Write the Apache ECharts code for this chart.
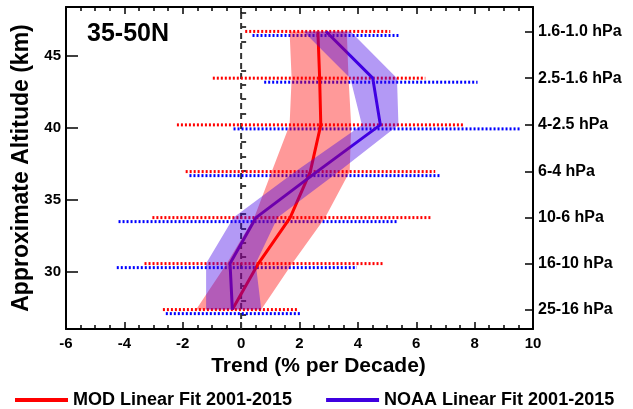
<!DOCTYPE html>
<html><head><meta charset="utf-8">
<script src="https://cdn.jsdelivr.net/npm/echarts@6/dist/echarts.min.js"></script>
<style>html,body{margin:0;padding:0;background:#fff}#c{width:633px;height:409px}</style>
</head><body><div id="c"></div>
<script>
// Pressure layers (approximate altitude, km) and their labels
const layerAlt = [46.7, 43.45, 40.2, 36.95, 33.75, 30.55, 27.35];
const layerLabels = ['1.6-1.0 hPa', '2.5-1.6 hPa', '4-2.5 hPa', '6-4 hPa', '10-6 hPa', '16-10 hPa', '25-16 hPa'];
// Linear-fit trends (% per decade)
const modTrend  = [2.63, 2.69, 2.73, 2.37, 1.68, 0.59, -0.30];
const noaaTrend = [2.91, 4.51, 4.77, 2.60, 0.51, -0.38, -0.30];
// Shaded uncertainty bands
const modBandLo  = [1.66, 1.73, 1.66, 1.05, 0.45, -0.49, -1.54];
const modBandHi  = [3.62, 3.68, 3.77, 3.72, 2.88, 1.75, 0.69];
const noaaBandLo = [2.14, 3.74, 4.14, 1.86, -0.26, -1.20, -1.20];
const noaaBandHi = [3.75, 5.34, 5.39, 3.35, 1.25, 0.50, 0.69];
// Dotted ranges
const modRangeLo  = [0.14, -0.97, -2.20, -1.90, -3.04, -3.31, -2.68];
const modRangeHi  = [5.11, 6.31, 7.64, 6.65, 6.54, 4.91, 1.93];
const noaaRangeLo = [0.39, 0.79, -0.26, -1.77, -4.20, -4.26, -2.58];
const noaaRangeHi = [5.39, 8.10, 9.59, 6.82, 5.36, 3.97, 2.05];
// Axis ticks
const altMajor = [30, 35, 40, 45];
const altMinor = [27, 28, 29, 31, 32, 33, 34, 36, 37, 38, 39, 41, 42, 43, 44, 46, 47, 48];
const title = '35-50N';
const modName = 'MOD Linear Fit 2001-2015';
const noaaName = 'NOAA Linear Fit 2001-2015';

const X_MIN = -6, X_MAX = 10, Y_MIN = 26, Y_MAX = 48.4;
const FONT = 'Liberation Sans';
const RED = '#ff0000', BLUE = '#3f00e0', DOT_BLUE = '#0000ff';
const RED_OFF = 0.0, BLUE_OFF = -0.28;

const chart = echarts.init(document.getElementById('c'), null, {renderer: 'canvas'});

function bandSeries(lo, hi, color, z) {
  return {
    type: 'custom', silent: true, z: z, xAxisIndex: 0, yAxisIndex: 0,
    data: [[lo[0], layerAlt[0]]],
    renderItem: function (params, api) {
      const pts = [];
      for (let i = 0; i < layerAlt.length; i++) pts.push(api.coord([lo[i], layerAlt[i]]));
      for (let i = layerAlt.length - 1; i >= 0; i--) pts.push(api.coord([hi[i], layerAlt[i]]));
      return {type: 'polygon', shape: {points: pts}, style: {fill: color}};
    }
  };
}

const series = [];
// zero line
series.push({type: 'line', silent: true, z: 1, data: [[0, Y_MIN], [0, Y_MAX]], showSymbol: false,
  lineStyle: {color: '#333', width: 2, type: [6, 4]}});
// dotted ranges
for (let i = 0; i < layerAlt.length; i++) {
  series.push({type: 'line', silent: true, z: 2, showSymbol: false,
    data: [[modRangeLo[i], layerAlt[i] + RED_OFF], [modRangeHi[i], layerAlt[i] + RED_OFF]],
    lineStyle: {color: RED, width: 3, type: [2, 2]}});
  series.push({type: 'line', silent: true, z: 2, showSymbol: false,
    data: [[noaaRangeLo[i], layerAlt[i] + BLUE_OFF], [noaaRangeHi[i], layerAlt[i] + BLUE_OFF]],
    lineStyle: {color: DOT_BLUE, width: 3, type: [2, 2]}});
}
// fit lines
series.push({name: modName, type: 'line', z: 3, showSymbol: false, color: RED,
  data: layerAlt.map((a, i) => [modTrend[i], a]), lineStyle: {color: RED, width: 3}});
series.push({name: noaaName, type: 'line', z: 3, showSymbol: false, color: BLUE,
  data: layerAlt.map((a, i) => [noaaTrend[i], a]), lineStyle: {color: BLUE, width: 3}});
// bands
series.push(bandSeries(modBandLo, modBandHi, 'rgba(255,0,0,0.4)', 4));
series.push(bandSeries(noaaBandLo, noaaBandHi, 'rgba(64,0,230,0.4)', 5));

const lbl = {fontFamily: FONT, fontWeight: 'bold', fontSize: 15, color: '#000'};

const option = {
  animation: false,
  backgroundColor: '#fff',
  title: {text: title, left: 82, top: 17, textStyle: {fontFamily: FONT, fontWeight: 'bold', fontSize: 25, color: '#000'}},
  legend: {
    left: 10, top: 386, itemWidth: 53, itemHeight: 4, itemGap: 34,
    textStyle: {fontFamily: FONT, fontWeight: 'bold', fontSize: 18, color: '#000'},
    data: [{name: modName, icon: 'rect'}, {name: noaaName, icon: 'rect'}],
    selectedMode: false
  },
  grid: {left: 66, right: 100, top: 7, bottom: 80, containLabel: false},
  xAxis: [
    {type: 'value', position: 'bottom', min: X_MIN, max: X_MAX, interval: 2,
      name: 'Trend (% per Decade)', nameLocation: 'middle', nameGap: 26,
      nameTextStyle: {fontFamily: FONT, fontWeight: 'bold', fontSize: 21, color: '#000', padding: [0, 0, 0, 38]},
      axisLine: {show: true, onZero: false, lineStyle: {color: '#000', width: 2}},
      axisTick: {show: true, inside: true, length: 7, lineStyle: {color: '#000', width: 1.5}},
      minorTick: {show: true, splitNumber: 4, length: 4, lineStyle: {color: '#000', width: 1.5}},
      axisLabel: Object.assign({margin: 7}, lbl),
      splitLine: {show: false}},
    {type: 'value', position: 'top', min: X_MIN, max: X_MAX, interval: 2,
      axisLine: {show: true, onZero: false, lineStyle: {color: '#000', width: 2}},
      axisTick: {show: true, inside: true, length: 7, lineStyle: {color: '#000', width: 1.5}},
      minorTick: {show: true, splitNumber: 4, length: 4, lineStyle: {color: '#000', width: 1.5}},
      axisLabel: {show: false}, splitLine: {show: false}}
  ],
  yAxis: [
    {type: 'value', position: 'left', min: Y_MIN, max: Y_MAX,
      name: 'Approximate Altitude (km)', nameLocation: 'middle', nameGap: 24,
      nameTextStyle: {fontFamily: FONT, fontWeight: 'bold', fontSize: 23, color: '#000'},
      axisLine: {show: true, onZero: false, lineStyle: {color: '#000', width: 2}},
      axisTick: {show: true, inside: true, length: 12, customValues: altMajor, lineStyle: {color: '#000', width: 1.5}},
      axisLabel: Object.assign({margin: 5, customValues: altMajor}, lbl),
      splitLine: {show: false}},
    {type: 'value', position: 'left', min: Y_MIN, max: Y_MAX,
      axisLine: {show: false},
      axisTick: {show: true, inside: true, length: 5, customValues: altMinor, lineStyle: {color: '#000', width: 1.5}},
      axisLabel: {show: false}, splitLine: {show: false}},
    {type: 'value', position: 'right', min: Y_MIN, max: Y_MAX,
      axisLine: {show: true, onZero: false, lineStyle: {color: '#000', width: 2}},
      axisTick: {show: true, inside: true, length: 8, customValues: layerAlt, lineStyle: {color: '#000', width: 1.5}},
      axisLabel: Object.assign({}, lbl, {margin: 5, fontSize: 16, customValues: layerAlt,
        formatter: function (v) { const i = layerAlt.findIndex(a => Math.abs(a - v) < 1e-6); return i >= 0 ? layerLabels[i] : ''; }}),
      splitLine: {show: false}}
  ],
  series: series
};
chart.setOption(option);
</script>
</body></html>
